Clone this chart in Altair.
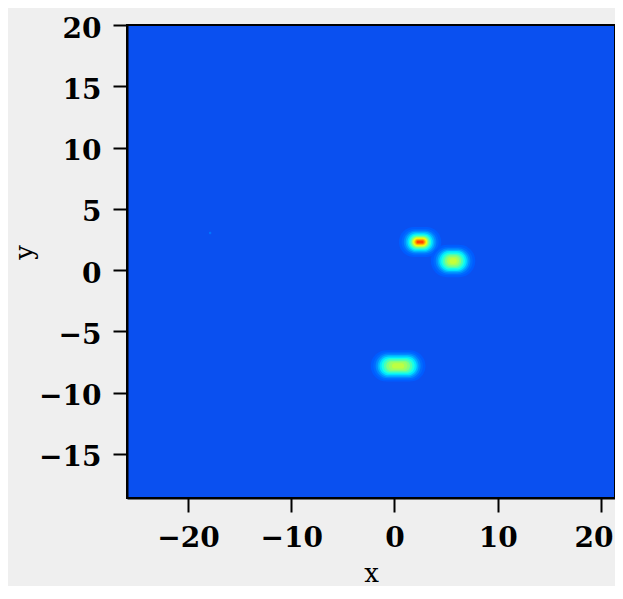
import altair as alt
import pandas as pd

# axis ticks and extents
x_ticks = [-20, -10, 0, 10, 20]
y_ticks = [-15, -10, -5, 0, 5, 10, 15, 20]
x_domain = [-25.9, 21.35]
y_domain = [-18.6, 20.0]

# blob centres (data units)
blob_names = ["A", "B", "C", "D"]
blob_x = [2.48, 5.67, 0.35, -17.85]
blob_y = [2.29, 0.74, -7.82, 3.03]

# contour levels per blob: intensity, half-width (x units), half-height (y units)
a_value = [0.215, 0.23, 0.26, 0.30, 0.35, 0.41, 0.47, 0.54, 0.61, 0.68, 0.75, 0.81]
a_rx = [2.05, 1.80, 1.58, 1.40, 1.23, 1.07, 0.93, 0.80, 0.68, 0.56, 0.45, 0.33]
a_ry = [1.22, 1.07, 0.94, 0.83, 0.72, 0.62, 0.52, 0.43, 0.34, 0.26, 0.18, 0.11]

b_value = [0.215, 0.23, 0.26, 0.30, 0.35, 0.40, 0.45, 0.50, 0.54, 0.57]
b_rx = [2.15, 1.90, 1.68, 1.50, 1.33, 1.15, 0.97, 0.78, 0.58, 0.36]
b_ry = [1.32, 1.17, 1.04, 0.92, 0.81, 0.70, 0.58, 0.46, 0.34, 0.22]

c_value = [0.215, 0.23, 0.26, 0.30, 0.35, 0.40, 0.45, 0.50, 0.53, 0.56]
c_rx = [2.65, 2.40, 2.18, 1.98, 1.80, 1.60, 1.38, 1.15, 0.90, 0.60]
c_ry = [1.28, 1.14, 1.01, 0.89, 0.77, 0.65, 0.54, 0.43, 0.33, 0.22]

d_value = [0.24]
d_rx = [0.12]
d_ry = [0.10]

levels = [(a_value, a_rx, a_ry), (b_value, b_rx, b_ry),
          (c_value, c_rx, c_ry), (d_value, d_rx, d_ry)]

rows = []
for name, cx, cy, (vals, rxs, rys) in zip(blob_names, blob_x, blob_y, levels):
    for v, rx, ry in zip(vals, rxs, rys):
        rows.append({"blob": name, "cx": cx, "cy": cy, "value": v, "rx": rx, "ry": ry})
df = pd.DataFrame(rows)

jet_domain = [0.0, 0.125, 0.375, 0.625, 0.875, 1.0]
jet_colors = ["#00007f", "#0000ff", "#00ffff", "#ffff00", "#ff0000", "#7f0000"]

axis_common = dict(
    labelFont="DejaVu Serif", labelFontWeight="bold", labelFontSize=28,
    labelColor="black", tickColor="black", tickWidth=2, tickSize=14,
    domainColor="black", domainWidth=2, grid=False,
    labelOverlap=False,
    titleFont="DejaVu Serif", titleFontWeight="normal", titleFontSize=26,
    titleColor="black",
)

last_x = x_ticks[-1]
x_axis = alt.Axis(
    values=x_ticks, title="x", labelPadding=12, labelFlush=False,
    labelAlign=alt.condition(f"datum.value == {last_x}", alt.value("right"), alt.value("center")),
    labelOffset=alt.condition(f"datum.value == {last_x}", alt.value(12), alt.value(0)),
    titleBaseline="alphabetic", titleY=83, **axis_common,
)
y_axis = alt.Axis(
    values=y_ticks, title="y", labelPadding=12, labelOffset=4, labelFlush=False,
    titleBaseline="alphabetic", titleX=-95, titleY=227, titleAngle=270,
    **axis_common,
)

chart = alt.Chart(df).transform_calculate(
    x1="datum.cx - datum.rx", x2="datum.cx + datum.rx",
    y1="datum.cy - datum.ry", y2="datum.cy + datum.ry",
).mark_rect(cornerRadius=500, clip=True).encode(
    x=alt.X("x1:Q", scale=alt.Scale(domain=x_domain, nice=False, zero=False), axis=x_axis),
    x2="x2:Q",
    y=alt.Y("y1:Q", scale=alt.Scale(domain=y_domain, nice=False, zero=False), axis=y_axis),
    y2="y2:Q",
    color=alt.Color("value:Q", scale=alt.Scale(domain=jet_domain, range=jet_colors,
                                               interpolate="rgb"), legend=None),
).properties(
    width=488, height=473,
    autosize="none",
    padding={"left": 119, "top": 17, "right": 0, "bottom": 88},
    background="#efefef",
).configure_view(fill="#0a50f0", stroke="black", strokeWidth=2)

chart.save("out.html", embed_options={"renderer": "svg", "actions": False})
